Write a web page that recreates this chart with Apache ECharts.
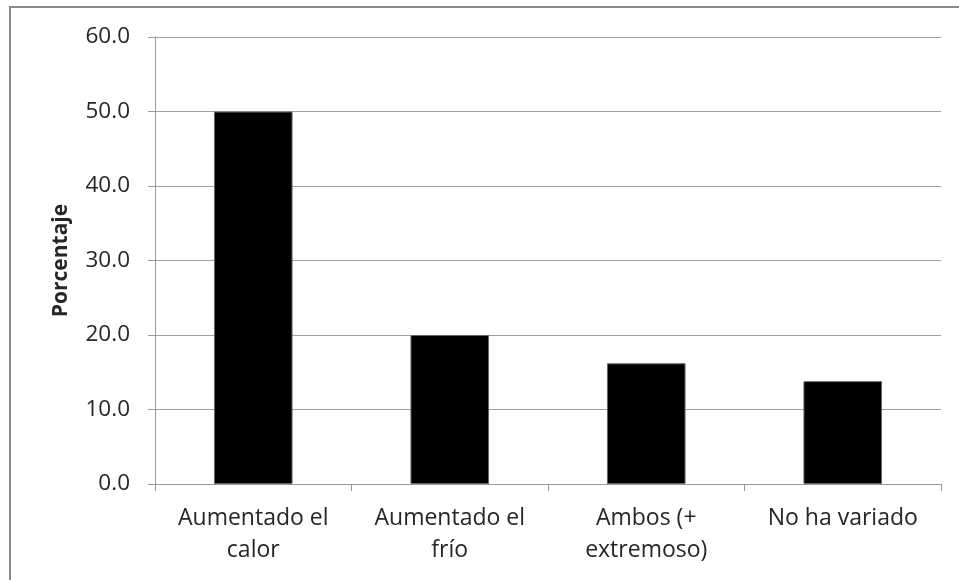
<!DOCTYPE html>
<html><head><meta charset="utf-8">
<script src="https://cdn.jsdelivr.net/npm/echarts@6/dist/echarts.min.js"></script>
<style>html,body{margin:0;padding:0;background:#fff}#c{width:959px;height:580px}</style>
</head><body><div id="c"></div>
<script>
const categories = ['Aumentado el\ncalor', 'Aumentado el\nfrío', 'Ambos (+\nextremoso)', 'No ha variado'];
const values = [50.0, 20.0, 16.2, 13.8];
const yTicks = [0, 10, 20, 30, 40, 50, 60];

const chart = echarts.init(document.getElementById('c'), null, {renderer: 'canvas'});
const FONT = 'Open Sans';
chart.setOption({
  animation: false,
  backgroundColor: '#fff',
  graphic: [{
    type: 'polyline',
    shape: {points: [[10, 600], [10, 7], [970, 7]]},
    style: {stroke: '#8a8a8a', lineWidth: 2, fill: null}
  }],
  grid: {left: 155, right: 18, top: 37, bottom: 96},
  xAxis: {
    type: 'category',
    data: categories,
    axisLine: {lineStyle: {color: '#9a9a9a', width: 1}},
    axisTick: {show: true, length: 7, alignWithLabel: false, lineStyle: {color: '#9a9a9a'}},
    axisLabel: {color: '#262626', fontFamily: FONT, fontSize: 23, lineHeight: 32, margin: 18, interval: 0}
  },
  yAxis: {
    type: 'value',
    min: yTicks[0], max: yTicks[yTicks.length - 1], interval: 10,
    name: 'Porcentaje',
    nameLocation: 'middle',
    nameGap: 83,
    nameTextStyle: {color: '#262626', fontFamily: FONT, fontSize: 21, fontWeight: 'bold'},
    axisLine: {show: true, lineStyle: {color: '#9a9a9a'}},
    axisTick: {show: true, inside: false, length: 7, lineStyle: {color: '#9a9a9a'}},
    splitLine: {lineStyle: {color: '#a0a0a0', width: 1}},
    axisLabel: {color: '#262626', fontFamily: FONT, fontSize: 22.5, margin: 25,
      formatter: v => v.toFixed(1)}
  },
  series: [{
    type: 'bar',
    data: values,
    barWidth: '40%',
    itemStyle: {color: '#000', borderColor: '#666', borderWidth: 1}
  }]
});
</script></body></html>
